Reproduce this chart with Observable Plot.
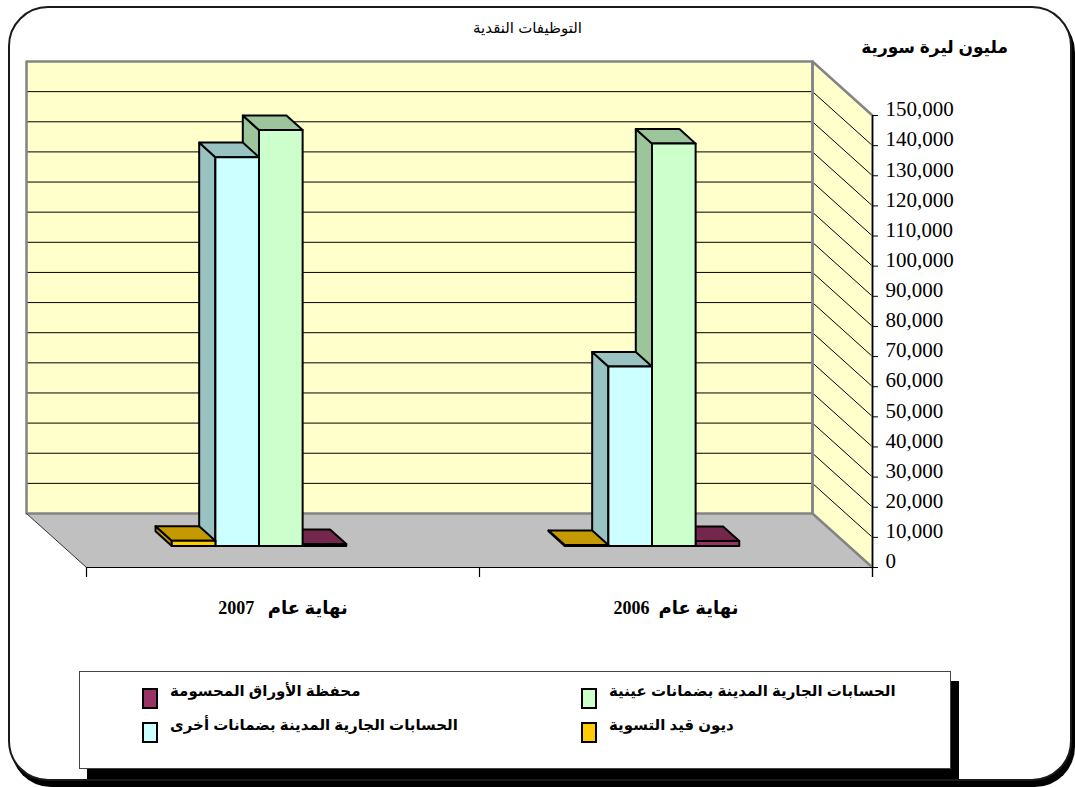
<!DOCTYPE html>
<html>
<head>
<meta charset="utf-8">
<script src="https://cdn.jsdelivr.net/npm/d3@7"></script>
<script src="https://cdn.jsdelivr.net/npm/@observablehq/plot@0.6"></script>
<style>
  html, body { margin: 0; padding: 0; background: #fff; }
  #page { position: relative; width: 1075px; height: 787px; overflow: hidden; font-family: "Liberation Sans", "DejaVu Sans", sans-serif; }
  #frame { position: absolute; left: 8px; top: 6px; width: 1060px; height: 771px; border: 2px solid #1a1a1a; border-radius: 40px; box-shadow: 3px 6px 0 #000; background: #fff; }
  #chart { position: absolute; left: 0; top: 0; }
  .title { position: absolute; left: 0; width: 1055px; top: 19px; text-align: center; font-size: 15px; color: #000; }
  .unit { position: absolute; right: 67px; top: 37px; font-size: 17px; font-weight: bold; direction: rtl; }
  #legend { position: absolute; left: 79px; top: 671px; width: 870px; height: 96px; border: 1px solid #444; background: #fff; box-shadow: 8px 10px 0 #000; }
  .item { position: absolute; display: flex; align-items: flex-start; font-size: 15px; font-weight: bold; white-space: nowrap; }
  .sw { display: inline-block; width: 12px; height: 17px; border: 2px solid #000; margin-right: 12px; margin-top: 6px; }
  .lbl { direction: rtl; }
</style>
</head>
<body>
<div id="page">
  <div id="frame"></div>
  <div class="title">التوظيفات النقدية</div>
  <div class="unit">مليون ليرة سورية</div>
  <div id="chart"></div>
  <div id="legend"></div>
</div>
<script>
// ---- data ----
const categories = ["نهاية عام   2007", "نهاية عام  2006"];
const seriesNames = [
  "ديون قيد التسوية",
  "الحسابات الجارية المدينة بضمانات أخرى",
  "الحسابات الجارية المدينة بضمانات عينية",
  "محفظة الأوراق المحسومة"
];
const values2007 = [1700, 129000, 138000, 600];
const values2006 = [300, 59500, 133500, 1600];
const yTicks = [0, 10000, 20000, 30000, 40000, 50000, 60000, 70000, 80000, 90000, 100000, 110000, 120000, 130000, 140000, 150000];

// ---- styles ----
const frontColors = ["#FFCC00", "#CCFFFF", "#CCFFCC", "#993366"];
const topColors   = ["#C49A00", "#99C2C2", "#9CC59C", "#74264C"];
const sideColors  = ["#C49A00", "#99C2C2", "#9CC59C", "#74264C"];

const valuesByCat = [values2007, values2006];
const yMax = 150000;
const DX = 0.1527;     // depth shift in x units (back -> front)
const DV = 17920;      // depth shift in y units (front -> back)
const F0 = 0.33, F1 = 0.60; // bar depth (0 = back wall, 1 = front edge)
const W = 0.111;       // bar width in category units
const P = (xu, v, f) => ({x: xu + DX * f, y: v + DV * (1 - f)});

// floor, walls
const wallPolys = [];
function wpoly(id, fill, pts) { pts.forEach(p => wallPolys.push({id, fill, x: p.x, y: p.y})); }
wpoly("floor", "#C0C0C0", [P(0,0,0), P(2,0,0), P(2,0,1), P(0,0,1)]);
wpoly("back", "#FFFFCC", [P(0,0,0), P(2,0,0), P(2,yMax,0), P(0,yMax,0)]);
wpoly("side", "#FFFFCC", [P(2,0,0), P(2,0,1), P(2,yMax,1), P(2,yMax,0)]);

// gridlines
const inner = yTicks.filter(t => t > 0 && t < yMax);
const backGrid = inner.map(t => ({x1: P(0,t,0).x, x2: P(2,t,0).x, y: P(0,t,0).y}));
const sideGrid = inner.map(t => ({x1: P(2,t,0).x, y1: P(2,t,0).y, x2: P(2,t,1).x, y2: P(2,t,1).y}));

// bars (painted right to left so nearer-left faces overlap)
const barRows = [];
let k = 0;
for (let c = categories.length - 1; c >= 0; c--) {
  const vals = valuesByCat[c];
  for (let i = seriesNames.length - 1; i >= 0; i--) {
    const v = vals[i];
    const x0 = c + 0.5 - 2 * W + i * W, x1 = x0 + W;
    const add = (fill, pts) => { const id = "b" + (k++); pts.forEach(p => barRows.push({id, fill, x: p.x, y: p.y})); };
    add(sideColors[i], [P(x0,0,F1), P(x0,v,F1), P(x0,v,F0), P(x0,0,F0)]);
    add(topColors[i], [P(x0,v,F1), P(x1,v,F1), P(x1,v,F0), P(x0,v,F0)]);
    add(frontColors[i], [P(x0,0,F1), P(x1,0,F1), P(x1,v,F1), P(x0,v,F1)]);
  }
}

const xFront = 2 + DX;
const pxPerX = 393;
const tickLen = 6 / pxPerX;
const belowV = 10 * yMax / 452;

const chart = Plot.plot({
  width: 1075,
  height: 787,
  marginLeft: 26,
  marginRight: 203,
  marginTop: 115,
  marginBottom: 220,
  style: {background: "transparent", overflow: "visible"},
  x: {domain: [0, xFront], axis: null},
  y: {domain: [0, yMax], axis: null},
  color: {type: "identity"},
  marks: [
    Plot.line(wallPolys.filter(d => d.id === "floor"), {x: "x", y: "y", z: "id", fill: "fill", stroke: "none", curve: "linear-closed"}),
    Plot.line(wallPolys.filter(d => d.id !== "floor"), {x: "x", y: "y", z: "id", fill: "fill", stroke: "none", curve: "linear-closed"}),
    Plot.ruleY(backGrid, {x1: "x1", x2: "x2", y: "y", stroke: "#000", strokeWidth: 1}),
    Plot.link(sideGrid, {x1: "x1", y1: "y1", x2: "x2", y2: "y2", stroke: "#000", strokeWidth: 1}),
    // wall borders
    Plot.line(wallPolys.filter(d => d.id !== "floor"), {x: "x", y: "y", z: "id", stroke: "#848484", strokeWidth: 2.5, curve: "linear-closed"}),
    // floor left edge
    Plot.link([0], {x1: () => P(0,0,0).x, y1: () => P(0,0,0).y, x2: () => P(0,0,1).x, y2: () => P(0,0,1).y, stroke: "#333", strokeWidth: 1}),
    // category axis
    Plot.ruleY([0], {x1: DX, x2: xFront, stroke: "#000", strokeWidth: 1.2}),
    Plot.ruleX([0, 1, 2].map(c => c + DX), {y1: 0, y2: -belowV, stroke: "#000", strokeWidth: 1.2}),
    // value axis
    Plot.ruleX([xFront], {y1: -belowV, y2: yMax, stroke: "#000", strokeWidth: 1.2}),
    Plot.ruleY(yTicks, {x1: xFront, x2: xFront + tickLen, y: d => d, stroke: "#000", strokeWidth: 1}),
    Plot.text(yTicks, {x: xFront, y: d => d, dx: 13, dy: -6, textAnchor: "start", text: d => d3.format(",")(d), fontSize: 21, fontFamily: "Liberation Serif, Times New Roman, serif", fill: "#000"}),
    // bars
    Plot.line(barRows, {x: "x", y: "y", z: "id", fill: "fill", stroke: "#000", strokeWidth: 2, strokeLinejoin: "round", curve: "linear-closed"}),
    // category labels
    Plot.text(categories, {x: (d, i) => i + 0.5 + DX, y: 0, dy: 41, text: d => d, fontSize: 18, fontWeight: "bold", fontFamily: "Liberation Serif, DejaVu Sans, serif", fill: "#000"})
  ]
});
document.getElementById("chart").appendChild(chart);

// legend
const legendOrder = [
  {i: 3, left: 62, top: 10},
  {i: 2, left: 501, top: 10},
  {i: 1, left: 62, top: 44},
  {i: 0, left: 501, top: 44}
];
const legend = document.getElementById("legend");
legendOrder.forEach(o => {
  const it = document.createElement("div");
  it.className = "item";
  it.style.left = o.left + "px";
  it.style.top = o.top + "px";
  const sw = document.createElement("span");
  sw.className = "sw";
  sw.style.background = frontColors[o.i];
  const lb = document.createElement("span");
  lb.className = "lbl";
  lb.textContent = seriesNames[o.i];
  it.appendChild(sw);
  it.appendChild(lb);
  legend.appendChild(it);
});
</script>
</body>
</html>
